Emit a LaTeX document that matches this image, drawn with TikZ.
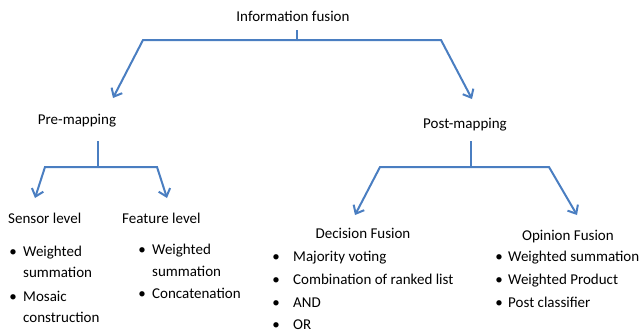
\documentclass[tikz,border=0pt]{standalone}
\usepackage{fontspec}
\setmainfont{Carlito}
\usetikzlibrary{arrows.meta}
\definecolor{lineblue}{RGB}{74,126,193}
\begin{document}
\begin{tikzpicture}[x=1pt,y=-1pt,
  conn/.style={draw=lineblue,line width=2pt,line join=miter,
    -{Straight Barb[length=7pt,width=12pt,line width=2pt]}},
  stub/.style={draw=lineblue,line width=2pt},
  lbl/.style={inner sep=0pt,font=\fontsize{15}{18}\selectfont},
  itm/.style={lbl,anchor=base west},
  bul/.style={lbl,anchor=base}]
\useasboundingbox (0,0) rectangle (644,333);

% titles
\node[lbl,anchor=base] (info) at (293,21) {Information fusion};
\node[lbl,anchor=base] (pre) at (77,124) {Pre-mapping};
\node[lbl,anchor=base] (post) at (465,128) {Post-mapping};
\node[lbl,anchor=base west] (sensor) at (8,223) {Sensor level};
\node[lbl,anchor=base west] (feature) at (122,223) {Feature level};
\node[lbl,anchor=base] (decision) at (363,238) {Decision Fusion};
\node[lbl,anchor=base] (opinion) at (568,240) {Opinion Fusion};

% sensor items
\node[bul] (sb1) at (13,256.5) {\textbullet};
\node[itm] (s1) at (23,256.5) {Weighted};
\node[itm] (s1b) at (23,277.5) {summation};
\node[bul] (sb2) at (13,301.5) {\textbullet};
\node[itm] (s2) at (23,301.5) {Mosaic};
\node[itm] (s2b) at (23,322.5) {construction};

% feature items
\node[bul] (fb1) at (142,254.5) {\textbullet};
\node[itm] (f1) at (152,254.5) {Weighted};
\node[itm] (f1b) at (152,276.5) {summation};
\node[bul] (fb2) at (142,298.5) {\textbullet};
\node[itm] (f2) at (152,298.5) {Concatenation};

% decision items
\node[bul] (db1) at (276,261.5) {\textbullet};
\node[itm] (d1) at (293,261.5) {Majority voting};
\node[bul] (db2) at (276,284.5) {\textbullet};
\node[itm] (d2) at (293,284.5) {Combination of ranked list};
\node[bul] (db3) at (276,307.5) {\textbullet};
\node[itm] (d3) at (293,307.5) {AND};
\node[bul] (db4) at (276,329.5) {\textbullet};
\node[itm] (d4) at (293,329.5) {OR};

% opinion items
\node[bul] (ob1) at (499,261.5) {\textbullet};
\node[itm] (o1) at (508,261.5) {Weighted summation};
\node[bul] (ob2) at (499,284.5) {\textbullet};
\node[itm] (o2) at (508,284.5) {Weighted Product};
\node[bul] (ob3) at (499,307.5) {\textbullet};
\node[itm] (o3) at (508,307.5) {Post classifier};

% connector points
\coordinate (a0) at (297,30);
\coordinate (a1) at (297,40);
\coordinate (aL) at (143,40);
\coordinate (aR) at (441,40);
\coordinate (tPre) at (113,98);
\coordinate (tPost) at (472,99);

\coordinate (b0) at (98,141);
\coordinate (b1) at (98,167);
\coordinate (bL) at (45,167);
\coordinate (bR) at (157,167);
\coordinate (tSen) at (35,198);
\coordinate (tFea) at (167,198);

\coordinate (c0) at (471,141);
\coordinate (c1) at (471,167);
\coordinate (cL) at (380,167);
\coordinate (cR) at (549,167);
\coordinate (tDec) at (355,215);
\coordinate (tOpi) at (577,215);

\draw[stub] (a0) -- (a1);
\draw[conn] (a1) -- (aL) -- (tPre);
\draw[conn] (a1) -- (aR) -- (tPost);
\draw[stub] (b0) -- (b1);
\draw[conn] (b1) -- (bL) -- (tSen);
\draw[conn] (b1) -- (bR) -- (tFea);
\draw[stub] (c0) -- (c1);
\draw[conn] (c1) -- (cL) -- (tDec);
\draw[conn] (c1) -- (cR) -- (tOpi);
\end{tikzpicture}
\end{document}
